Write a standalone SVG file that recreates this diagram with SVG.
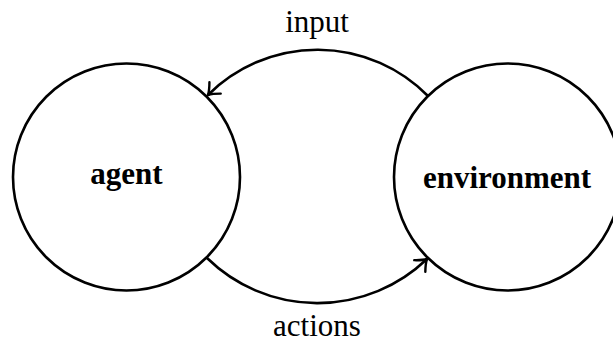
<svg xmlns="http://www.w3.org/2000/svg" width="613" height="341" viewBox="0 0 613 341">
  <defs>
    <style>
      .node circle { fill: none; stroke: #000; stroke-width: 2.6; }
      .node text { font-family: "Liberation Serif", "Times New Roman", serif; font-weight: bold; font-size: 31px; text-anchor: middle; fill: #000; }
      .edges path.edge { fill: none; stroke: #000; stroke-width: 2.6; marker-end: url(#arrow); }
      .edges text { font-family: "Liberation Serif", "Times New Roman", serif; font-size: 31px; text-anchor: middle; fill: #000; }
    </style>
    <marker id="arrow" markerUnits="userSpaceOnUse" markerWidth="20" markerHeight="20" refX="0" refY="0" orient="auto" overflow="visible">
      <path d="M-10,-8 Q-4,-2 0,0 Q-4,2 -10,8" fill="none" stroke="#000" stroke-width="2.4" stroke-linecap="round"/>
    </marker>
  </defs>
  <rect width="613" height="341" fill="#fff"/>

  <g id="agent" class="node">
    <circle cx="126.5" cy="177" r="113.5"/>
    <text x="126.5" y="184">agent</text>
  </g>

  <g id="environment" class="node">
    <circle cx="507.5" cy="177" r="113.5"/>
    <text x="507" y="187.5">environment</text>
  </g>

  <g id="connectors" class="edges">
    <path class="edge" d="M428,96 A155,155 0 0 0 208,95"/>
    <text x="317" y="32">input</text>
    <path class="edge" d="M207,258 A158,158 0 0 0 427,259"/>
    <text x="317" y="336">actions</text>
  </g>
</svg>
